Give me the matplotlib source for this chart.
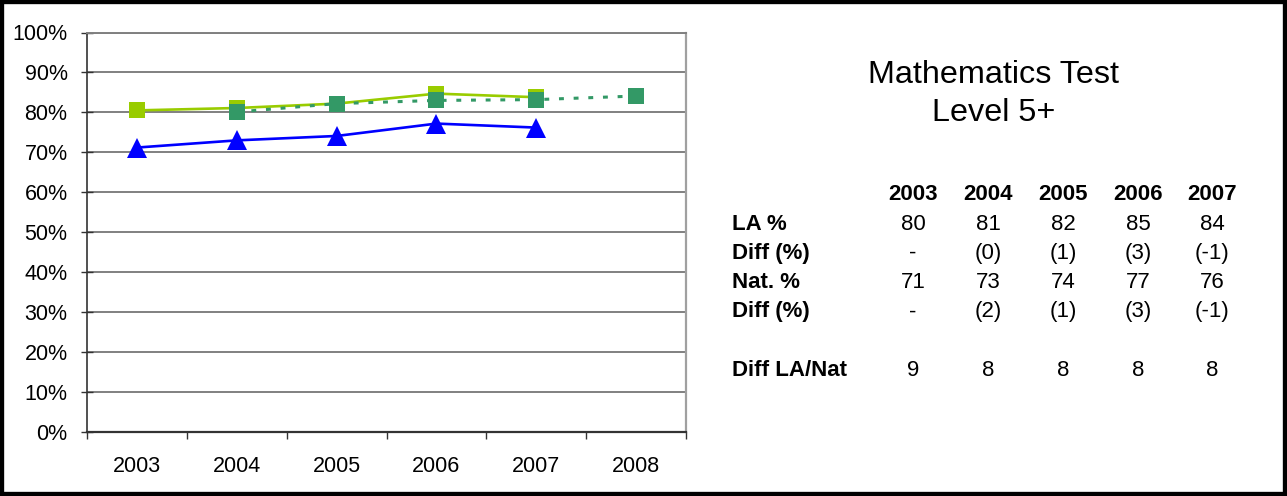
import matplotlib
matplotlib.use("Agg")
import matplotlib.pyplot as plt
from matplotlib.ticker import PercentFormatter, MultipleLocator, FixedLocator
from matplotlib.patches import Rectangle

plt.rcParams['font.family'] = ['Liberation Sans', 'DejaVu Sans']

# ---- data ----
years = ['2003', '2004', '2005', '2006', '2007', '2008']
la_values = [80.5, 81.1, 82.2, 84.7, 83.8]            # 2003-2007
target_years = ['2004', '2005', '2006', '2007', '2008']
target_values = [80.1, 82.2, 83.0, 83.2, 84.1]        # 2004-2008
nat_values = [71.2, 73.0, 74.1, 77.2, 76.2]           # 2003-2007

title_lines = ['Mathematics Test', 'Level 5+']
table_years = ['2003', '2004', '2005', '2006', '2007']
row_labels = ['LA %', 'Diff (%)', 'Nat. %', 'Diff (%)', 'Diff LA/Nat']
la_pct = ['80', '81', '82', '85', '84']
la_diff = ['-', '(0)', '(1)', '(3)', '(-1)']
nat_pct = ['71', '73', '74', '77', '76']
nat_diff = ['-', '(2)', '(1)', '(3)', '(-1)']
diff_la_nat = ['9', '8', '8', '8', '8']

W, H = 1287, 496
fig = plt.figure(figsize=(W / 100, H / 100), dpi=100)

def fx(px):
    return px / W

def fy(py):
    return 1 - py / H

ax = fig.add_axes([fx(87), fy(432), fx(686) - fx(87), fy(32.5) - fy(432)])

xi = {y: i for i, y in enumerate(years)}
la_x = [xi[y] for y in years[:len(la_values)]]
nat_x = [xi[y] for y in years[:len(nat_values)]]
tg_x = [xi[y] for y in target_years]

ax.plot(la_x, la_values, color='#99CC00', lw=1.9, marker='s', ms=11.5,
        markeredgewidth=0, zorder=3)
ax.plot(tg_x, target_values, color='#339966', lw=2.2, ls=(0, (1.6, 3.2)),
        marker='s', ms=11.5, markeredgewidth=0, zorder=4)
ax.plot(nat_x, nat_values, color='#0000FF', lw=1.9, marker='^', ms=14,
        markeredgewidth=0, zorder=5)

ax.set_xlim(-0.5, len(years) - 0.5)
ax.set_ylim(0, 100)
ax.yaxis.set_major_locator(MultipleLocator(10))
ax.yaxis.set_major_formatter(PercentFormatter(100, decimals=0))
ax.set_xticks(range(len(years)))
ax.set_xticklabels(years)
ax.xaxis.set_minor_locator(FixedLocator([i - 0.5 for i in range(len(years) + 1)]))
ax.tick_params(axis='x', which='major', length=0, pad=17, labelsize=15.5)
ax.tick_params(axis='x', which='minor', length=5, width=1, color='#333333', direction='out')
ax.tick_params(axis='y', which='major', length=8, width=1, color='#333333',
               direction='inout', labelsize=15.5, pad=10)

ax.grid(axis='y', color='#808080', lw=1.4)
ax.set_axisbelow(True)
ax.spines['top'].set_color('#808080')
ax.spines['top'].set_linewidth(1.4)
ax.spines['right'].set_color('#A0A0A0')
ax.spines['right'].set_linewidth(1.6)
ax.spines['left'].set_color('#333333')
ax.spines['bottom'].set_color('#333333')
ax.spines['left'].set_linewidth(1.2)
ax.spines['bottom'].set_linewidth(1.6)

# ---- title on the right ----
fig.text(fx(994), fy(75), title_lines[0], ha='center', va='center', fontsize=23.3)
fig.text(fx(994), fy(113), title_lines[1], ha='center', va='center', fontsize=23.3)

# ---- table ----
col_x = [913, 988, 1063, 1138, 1212]
label_x = 732
header_y = 194
row_y = [224, 253, 283, 312, 370]
rows = [la_pct, la_diff, nat_pct, nat_diff, diff_la_nat]
for cx, yr in zip(col_x, table_years):
    fig.text(fx(cx), fy(header_y), yr, ha='center', va='center',
             fontsize=16, fontweight='bold')
for ry, lab, vals in zip(row_y, row_labels, rows):
    fig.text(fx(label_x), fy(ry), lab, ha='left', va='center',
             fontsize=16, fontweight='bold')
    for cx, v in zip(col_x, vals):
        fig.text(fx(cx), fy(ry), v, ha='center', va='center', fontsize=16)

# ---- outer border ----
fig.patches.append(Rectangle((0, 0), 1, 1, transform=fig.transFigure,
                             fill=False, edgecolor='black', lw=6, zorder=10))

fig.savefig('out.png', dpi=100)
